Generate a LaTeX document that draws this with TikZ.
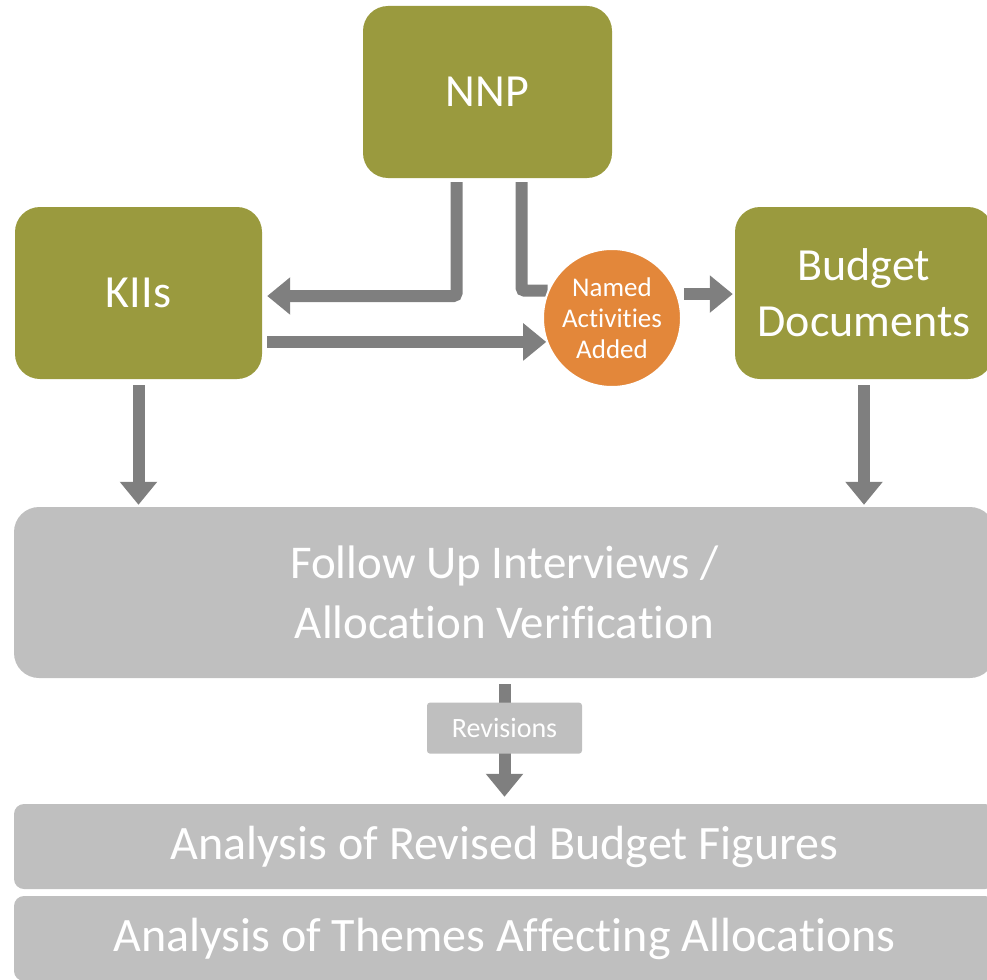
\documentclass[tikz,border=0pt]{standalone}
\usepackage{fontspec}
\setmainfont{Carlito}[RawFeature={-liga;-clig;-calt;-dlig;-rlig}]
\usetikzlibrary{arrows.meta, positioning, backgrounds}
\definecolor{BoxOlive}{RGB}{154, 154, 62}
\definecolor{NoteOrange}{RGB}{227, 135, 58}
\definecolor{ArrowGray}{RGB}{127, 127, 127}
\definecolor{StepGray}{RGB}{191, 191, 191}

\tikzset{
  srcbox/.style={fill=BoxOlive, rounded corners=25pt, minimum height=172pt,
    inner sep=0pt, text=white, align=center, font=\fontsize{46}{56}\selectfont},
  stagebox/.style={fill=StepGray, rounded corners=25pt, minimum width=981pt,
    inner sep=0pt, text=white, align=center, font=\fontsize{47}{60}\selectfont},
  notecirc/.style={circle, fill=NoteOrange, draw=white, line width=2pt,
    minimum size=138pt, inner sep=0pt, text=white, align=center,
    font=\fontsize{27}{31}\selectfont},
  revbox/.style={fill=StepGray, minimum width=155pt, minimum height=51pt,
    inner sep=0pt, text=white, font=\fontsize{28}{30}\selectfont},
  flowarrow/.style={draw=ArrowGray, line width=12pt, rounded corners=3pt,
    -{Triangle[width=36pt, length=23pt]}}
}

\begin{document}
\begin{tikzpicture}[x=1pt, y=-1pt]
  \useasboundingbox (0,0) rectangle (987,979);

  % sources
  \node[srcbox, minimum width=249pt] (NNP) at (487.5, 92) {NNP};
  \node[srcbox, minimum width=247pt] (KII) at (138.5, 293) {KIIs};
  \node[srcbox, minimum width=258pt] (Bud) at (864, 293) {Budget\\Documents};
  \node[notecirc] (act) at (612, 318) {Named\\Activities\\Added};

  % stages
  \node[stagebox, minimum height=171pt] (FUI) at (504.5, 592.5)
    {Follow Up Interviews /\\Allocation Verification};
  \node[stagebox, minimum height=85pt, rounded corners=10pt, font=\fontsize{48}{56}\selectfont]
    (AR1) at (504.5, 846.5) {Analysis of Revised Budget Figures};
  \node[stagebox, minimum height=85pt, rounded corners=10pt, font=\fontsize{48}{56}\selectfont]
    (AR2) at (504.5, 938.5) {Analysis of Themes Affecting Allocations};

  \begin{scope}[on background layer]
    \draw[flowarrow] ([xshift=-31pt, yshift=-4pt]NNP.south) |- ([xshift=5pt, yshift=-3pt]KII.east);
    \draw[flowarrow, -] ([xshift=34pt, yshift=-4pt]NNP.south) |- (act.157);
    \draw[flowarrow, shorten <=5pt] (KII.east |- act.200) -- (act.200);
    \draw[flowarrow, shorten <=6pt, shorten >=2pt] (act.20) -- (act.20 -| Bud.west);
    \draw[flowarrow, shorten <=6pt, shorten >=2pt] (KII.south) -- (KII.south |- FUI.north);
    \draw[flowarrow, shorten <=6pt, shorten >=2pt] (Bud.south) -- (Bud.south |- FUI.north);
    \draw[flowarrow] ([yshift=-6pt]FUI.south) -- node[revbox, pos=0.39] (rev) {Revisions}
      ([yshift=7pt]AR1.north);
  \end{scope}
\end{tikzpicture}
\end{document}
